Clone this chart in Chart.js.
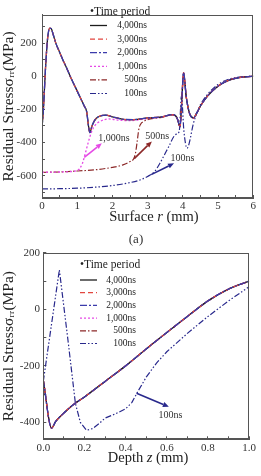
<!DOCTYPE html>
<html><head><meta charset="utf-8">
<script src="https://cdn.jsdelivr.net/npm/chart.js@4/dist/chart.umd.min.js"></script>
<style>
html,body{margin:0;padding:0;background:#fff;width:261px;height:476px;overflow:hidden;}
#ca{position:absolute;left:0;top:0;}
#cb{position:absolute;left:0;top:240px;}
#lab{position:absolute;left:106px;width:60px;top:232px;text-align:center;font:13px 'Liberation Serif',serif;color:#333;line-height:14px;}
</style></head><body>
<canvas id="ca" width="261" height="240"></canvas>
<canvas id="cb" width="261" height="236"></canvas>
<div id="lab">(a)</div>
<script>
// ---------- DATA ----------
const seriesLabels = ['4,000ns','3,000ns','2,000ns','1,000ns','500ns','100ns'];

// (a) surface r (mm) vs residual stress (MPa)
const surfR_main = [0,0.04,0.1,0.16,0.22,0.26,0.32,0.4,0.5,0.6,0.7,0.8,0.9,1.0,1.1,1.2,1.27,1.32,1.36,1.42,1.5,1.6,1.8,2.0,2.3,2.6,3.0,3.4,3.7,3.8,3.85,3.92,3.97,4.02,4.1,4.2,4.3,4.4,4.5,4.7,5.0,5.3,5.6,6.0];
const surfS_main = [-310,-200,50,230,290,288,250,195,145,95,50,0,-45,-90,-135,-180,-215,-300,-340,-300,-265,-245,-235,-245,-260,-262,-252,-245,-232,-240,-260,-305,-150,22,-130,-230,-252,-220,-180,-120,-60,-25,-8,0];
const surfR_1000 = [0,0.5,1.0,1.06,1.15,1.2,1.3,1.4,1.5,1.66,1.9,2.2,2.5,3.0,3.4,3.7,3.8,3.85,3.92,3.97,4.02,4.1,4.2,4.3,4.4,4.5,4.7,5.0,5.3,5.6,6.0];
const surfS_1000 = [-580,-578,-570,-560,-525,-490,-410,-340,-298,-272,-258,-266,-268,-256,-247,-234,-242,-262,-305,-150,20,-130,-230,-252,-220,-180,-120,-60,-25,-8,0];
const surfR_500 = [0,0.5,1.0,1.5,2.0,2.3,2.5,2.6,2.65,2.7,2.75,2.8,2.9,3.0,3.4,3.7,3.8,3.85,3.92,3.97,4.02,4.1,4.2,4.3,4.4,4.5,4.7,5.0,5.3,5.6,6.0];
const surfS_500 = [-580,-578,-572,-565,-550,-535,-515,-500,-470,-400,-320,-290,-272,-262,-248,-233,-241,-261,-305,-150,20,-130,-230,-252,-220,-180,-120,-60,-25,-8,0];
const surfR_100 = [0,0.5,1.0,1.5,2.0,2.5,2.8,3.0,3.2,3.35,3.5,3.6,3.75,3.85,3.9,3.96,4.03,4.12,4.18,4.3,4.4,4.5,4.7,5.0,5.3,5.6,6.0];
const surfS_100 = [-680,-679,-676,-670,-660,-642,-625,-605,-575,-525,-465,-425,-362,-345,-330,-120,-330,-435,-405,-285,-222,-172,-110,-50,-18,-5,0];

// (b) depth z (mm) vs residual stress (MPa)
const depthZ_main = [0,0.04,0.06,0.1,0.15,0.2,0.3,0.4,0.5,0.6,0.7,0.8,0.9,1.0];
const depthS_main = [-250,-420,-397,-367,-335,-310,-255,-200,-140,-82,-25,30,72,100];
const depthZ_100 = [0,0.078,0.12,0.156,0.18,0.21,0.24,0.27,0.3,0.35,0.4,0.43,0.46,0.5,0.55,0.6,0.7,0.8,0.9,1.0];
const depthS_100 = [-255,140,-110,-333,-400,-428,-422,-405,-385,-370,-352,-330,-290,-240,-190,-150,-85,-25,30,80];

const surfXTicks = [0,1,2,3,4,5,6];
const surfYTicks = [-600,-400,-200,0,200];
const depthXTicks = [0.0,0.2,0.4,0.6,0.8,1.0];
const depthYTicks = [-400,-200,0,200];

// ---------- STYLES ----------
const FONT = "'Liberation Serif', 'Times New Roman', serif";
Chart.defaults.font.family = FONT;
const styles = {
  '4,000ns': {color:'#1c1c1c', dash:[], width:1.3, order:3},
  '3,000ns': {color:'#e2463f', dash:[5,3], width:1.3, order:2},
  '2,000ns': {color:'#3b3bab', dash:[7,2,2,2], width:1.3, order:1},
  '1,000ns': {color:'#e64ae6', dash:[2,2], width:1.3, order:4},
  '500ns':   {color:'#8c2828', dash:[6,2,1.5,2], width:1.2, order:5},
  '100ns':   {color:'#28288c', dash:[6,2,1.5,2,1.5,2], width:1.2, order:6}
};
function pts(xs, ys){ return xs.map((x,i)=>({x:x, y:ys[i]})); }
function ds(label, xs, ys, mono){
  const s = styles[label];
  return {label, data: pts(xs,ys), borderColor:s.color, backgroundColor:s.color,
    borderDash:s.dash, borderWidth:s.width, order:s.order, pointRadius:0,
    fill:false, cubicInterpolationMode: mono ? 'monotone':'default', tension:0};
}

const framePlugin = {
  id:'frame',
  afterDatasetsDraw(chart){
    const a = chart.chartArea, c = chart.ctx;
    c.save(); c.strokeStyle='#555'; c.lineWidth=1;
    c.strokeRect(Math.round(a.left)+0.5, Math.round(a.top)+0.5, Math.round(a.right-a.left)-1, Math.round(a.bottom-a.top)-1);
    c.restore();
  }
};
const legendPlugin = {
  id:'customLegend',
  afterDatasetsDraw(chart, args, o){
    const c = chart.ctx;
    c.save();
    c.fillStyle='#222'; c.textBaseline='middle';
    c.font = o.headerSize + 'px ' + FONT;
    c.textAlign='left';
    c.fillText('\u2022Time period', o.x0, o.headerY);
    c.font = o.size + 'px ' + FONT;
    seriesLabels.forEach((lab,i)=>{
      const s = styles[lab];
      const y = o.rowY + i*o.gap;
      c.strokeStyle = s.color; c.lineWidth = s.width; c.setLineDash(s.dash);
      c.beginPath(); c.moveTo(o.x0, y); c.lineTo(o.x0+o.len, y); c.stroke();
      c.setLineDash([]);
      c.textAlign='right'; c.fillStyle='#222';
      c.fillText(lab, o.textRight, y);
    });
    c.restore();
  }
};
// x-axis title with an italic variable letter
const xTitlePlugin = {
  id:'xTitle',
  afterDraw(chart, args, o){
    const c = chart.ctx;
    c.save();
    c.fillStyle='#222'; c.textBaseline='middle'; c.textAlign='left';
    const parts = o.parts;
    let w = 0;
    parts.forEach(p=>{ c.font = (p.it?'italic ':'') + o.size + 'px ' + FONT; p.w = c.measureText(p.t).width; w += p.w; });
    let x = o.cx - w/2;
    parts.forEach(p=>{ c.font = (p.it?'italic ':'') + o.size + 'px ' + FONT; c.fillText(p.t, x, o.cy); x += p.w; });
    c.restore();
  }
};
const notePlugin = {
  id:'notes',
  afterDatasetsDraw(chart, args, o){
    const c = chart.ctx, xs = chart.scales.x, ys = chart.scales.y;
    c.save();
    (o.arrows||[]).forEach(a=>{
      const x1=xs.getPixelForValue(a.from[0]), y1=ys.getPixelForValue(a.from[1]);
      const x2=xs.getPixelForValue(a.to[0]), y2=ys.getPixelForValue(a.to[1]);
      const ang=Math.atan2(y2-y1,x2-x1), L=6, W=2.6;
      c.strokeStyle=a.color; c.fillStyle=a.color; c.lineWidth=1.6; c.setLineDash([]);
      c.beginPath(); c.moveTo(x1,y1); c.lineTo(x2-L*Math.cos(ang), y2-L*Math.sin(ang)); c.stroke();
      c.beginPath(); c.moveTo(x2,y2);
      c.lineTo(x2-L*Math.cos(ang)+W*Math.sin(ang), y2-L*Math.sin(ang)-W*Math.cos(ang));
      c.lineTo(x2-L*Math.cos(ang)-W*Math.sin(ang), y2-L*Math.sin(ang)+W*Math.cos(ang));
      c.closePath(); c.fill();
    });
    c.font = o.size + 'px ' + FONT; c.fillStyle='#333'; c.textAlign='left'; c.textBaseline='middle';
    (o.texts||[]).forEach(t=>{
      c.fillText(t.text, xs.getPixelForValue(t.x), ys.getPixelForValue(t.y));
    });
    c.restore();
  }
};

function stepTicks(min, max, step){
  const out = [];
  const n0 = Math.ceil(min/step - 1e-9), n1 = Math.floor(max/step + 1e-9);
  for (let n=n0; n<=n1; n++) out.push({value: Math.round(n*step*1000)/1000});
  return out;
}
function axisCommon(){
  return {
    grid:{display:true, drawOnChartArea:false, drawTicks:true, tickLength:-3, tickColor:'#555'},
    border:{display:true, color:'#555', width:1}
  };
}
function makeScales(cfg){
  const X = axisCommon(), Y = axisCommon();
  Object.assign(X, {
    type:'linear', min:cfg.xmin, max:cfg.xmax,
    ticks:{autoSkip:false, maxRotation:0, padding:5, color:'#333', font:{size:11},
      callback:(v)=> cfg.xTicks.some(t=>Math.abs(t-v)<1e-9) ? cfg.xFmt(v) : ''},
    afterBuildTicks:(s)=>{ s.ticks = stepTicks(cfg.xmin, cfg.xmax, cfg.xminor); },
    afterFit:(s)=>{ s.height = cfg.xH; },
    title:{display:false}
  });
  Object.assign(Y, {
    type:'linear', min:cfg.ymin, max:cfg.ymax,
    ticks:{autoSkip:false, padding:cfg.yPad, color:'#333', font:{size:11},
      callback:(v)=> cfg.yTicks.some(t=>Math.abs(t-v)<1e-6) ? String(Math.round(v)) : ''},
    afterBuildTicks:(s)=>{ s.ticks = stepTicks(cfg.ymin, cfg.ymax, 100); },
    afterFit:(s)=>{ s.width = cfg.yW; },
    title:{display:true, text:'Residual Stress\u03c3\u1d63\u1d63(MPa)', color:'#222', font:{size:15.5, lineHeight:1}, padding:{top:1,bottom:0}}
  });
  return {x:X, y:Y};
}

// ---------- CHART (a) ----------
new Chart(document.getElementById('ca'), {
  type:'line',
  data:{datasets:[
    ds('4,000ns', surfR_main, surfS_main, true),
    ds('3,000ns', surfR_main, surfS_main, true),
    ds('2,000ns', surfR_main, surfS_main, true),
    ds('1,000ns', surfR_1000, surfS_1000, true),
    ds('500ns', surfR_500, surfS_500, true),
    ds('100ns', surfR_100, surfS_100, true)
  ]},
  options:{
    responsive:false, animation:false, devicePixelRatio:1,
    layout:{padding:{left:0, right:3.7, top:4, bottom:0}},
    scales: makeScales({xmin:0,xmax:6,xminor:0.5,xTicks:surfXTicks,xFmt:v=>String(v),xH:42,
      ymin:-735, ymax:370, yTicks:surfYTicks, yPad:8.3, yW:42}),
    plugins:{
      legend:{display:false}, tooltip:{enabled:false},
      customLegend:{x0:90, len:17, textRight:147, headerY:12, rowY:25.5, gap:13.6, size:9.5, headerSize:11.5},
      xTitle:{cx:154, cy:217, size:14.5, parts:[{t:'Surface '},{t:'r',it:true},{t:' (mm)'}]},
      notes:{size:10, arrows:[
        {from:[1.2,-490], to:[1.7,-405], color:'#e64ae6'},
        {from:[2.62,-497], to:[3.12,-394], color:'#8c2828'},
        {from:[3.1,-594], to:[3.75,-526], color:'#28288c'}
      ], texts:[
        {x:1.6, y:-377, text:'1,000ns'},
        {x:2.93, y:-366, text:'500ns'},
        {x:3.65, y:-497, text:'100ns'}
      ]}
    }
  },
  plugins:[framePlugin, legendPlugin, notePlugin, xTitlePlugin]
});

// ---------- CHART (b) ----------
new Chart(document.getElementById('cb'), {
  type:'line',
  data:{datasets:[
    ds('4,000ns', depthZ_main, depthS_main, true),
    ds('3,000ns', depthZ_main, depthS_main, true),
    ds('2,000ns', depthZ_main, depthS_main, true),
    ds('1,000ns', depthZ_main, depthS_main, true),
    ds('500ns', depthZ_main, depthS_main, true),
    ds('100ns', depthZ_100, depthS_100, false)
  ]},
  options:{
    responsive:false, animation:false, devicePixelRatio:1,
    layout:{padding:{left:0, right:4.3, top:11.7, bottom:0}},
    scales: makeScales({xmin:0,xmax:1,xminor:0.1,xTicks:depthXTicks,xFmt:v=>v.toFixed(1),xH:36.7,
      ymin:-460, ymax:200, yTicks:depthYTicks, yPad:6.3, yW:43.3}),
    plugins:{
      legend:{display:false}, tooltip:{enabled:false},
      customLegend:{x0:80, len:17, textRight:136, headerY:25, rowY:40, gap:12.7, size:9.5, headerSize:11.5},
      xTitle:{cx:148, cy:218, size:14.5, parts:[{t:'Depth '},{t:'z',it:true},{t:' (mm)'}]},
      notes:{size:10, arrows:[
        {from:[0.453,-297], to:[0.61,-345], color:'#28288c'}
      ], texts:[
        {x:0.56, y:-374, text:'100ns'}
      ]}
    }
  },
  plugins:[framePlugin, legendPlugin, notePlugin, xTitlePlugin]
});
</script>
</body></html>
